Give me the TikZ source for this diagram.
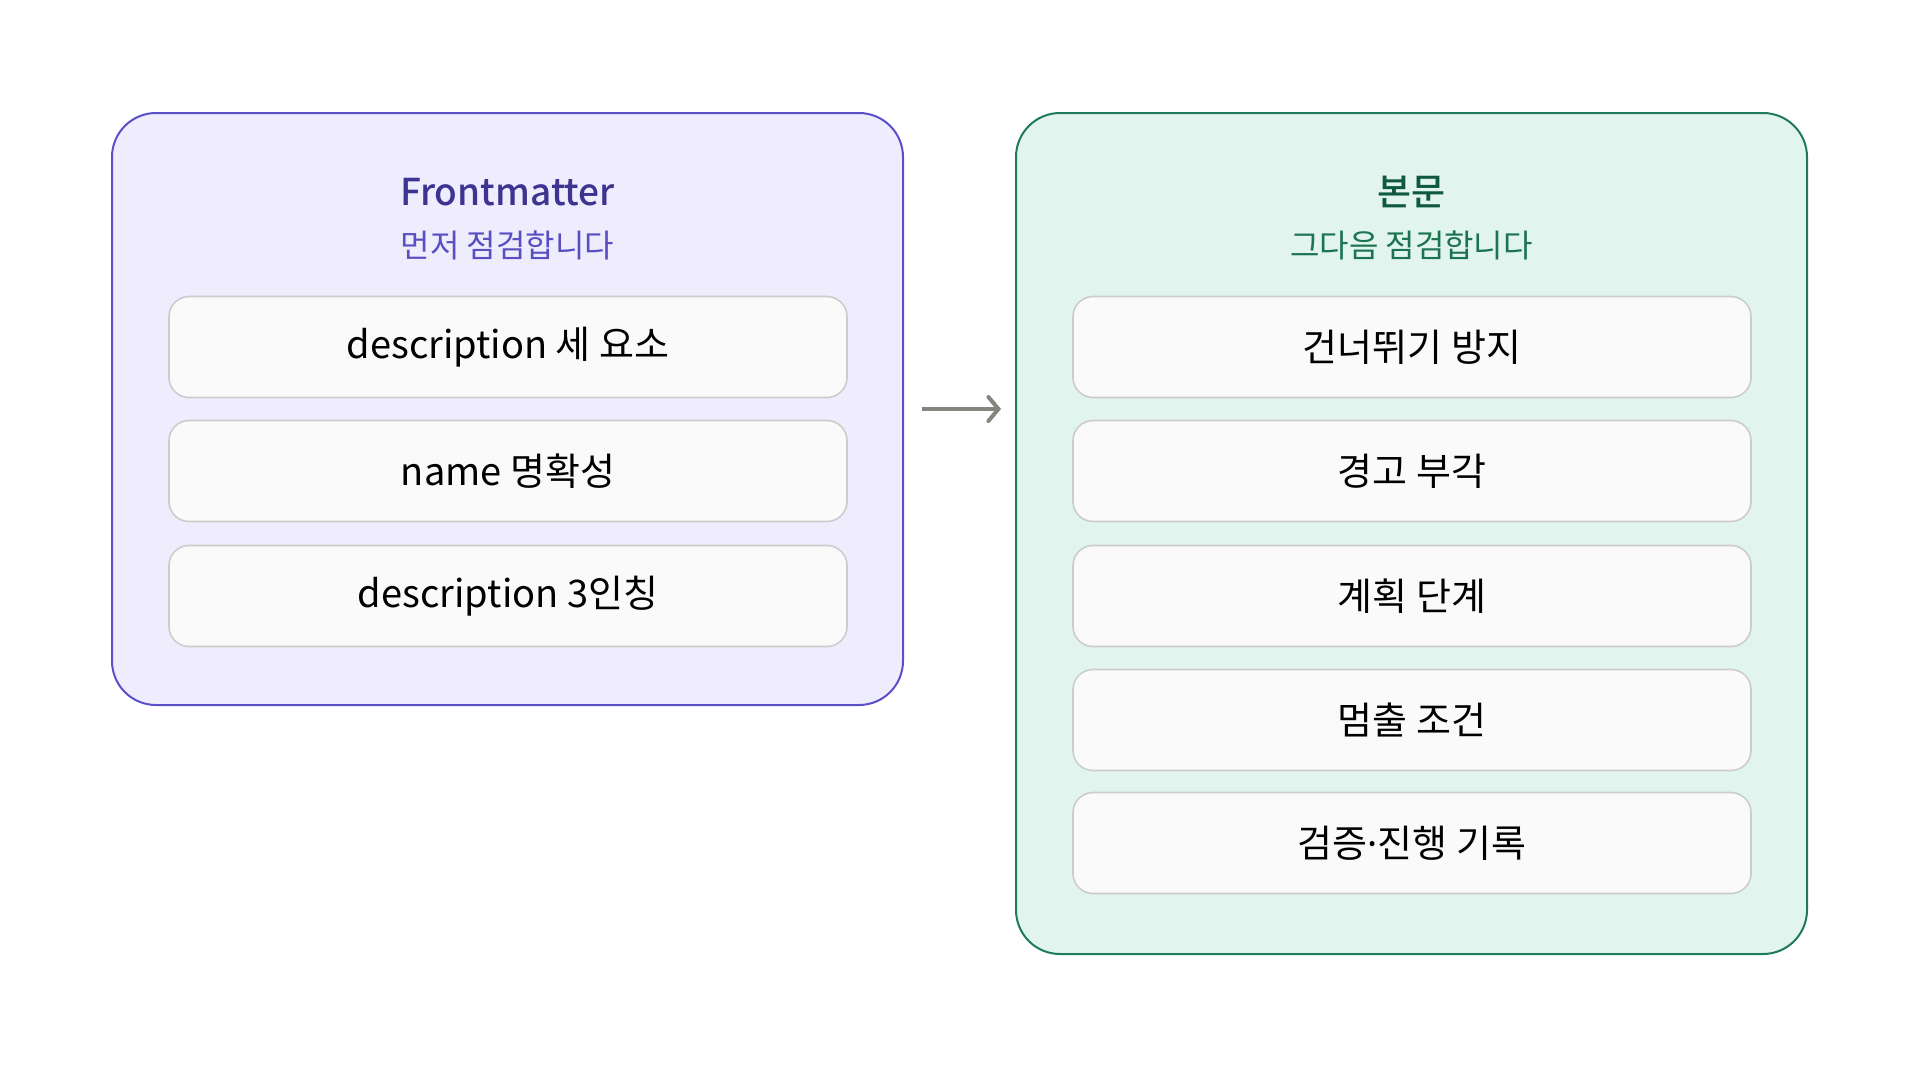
\documentclass[tikz,border=0pt]{standalone}
\usepackage{fontspec}
\setmainfont{Noto Sans CJK KR}
\newfontfamily\mediumfont{Noto Sans CJK KR Medium}
\newfontfamily\dotfont{Noto Sans}
\usetikzlibrary{arrows.meta}
\definecolor{fmfill}{HTML}{EEECFD}
\definecolor{fmline}{HTML}{5B50C8}
\definecolor{fmtitle}{HTML}{3D3390}
\definecolor{fmsub}{HTML}{5A4FC2}
\definecolor{bmfill}{HTML}{E1F5EE}
\definecolor{bmline}{HTML}{1F7A5A}
\definecolor{bmtitle}{HTML}{0F5A3E}
\definecolor{bmsub}{HTML}{1C7352}
\definecolor{itemfill}{HTML}{FAFAFA}
\definecolor{itemline}{HTML}{CCCCCC}
\definecolor{arrowgray}{HTML}{85857D}
\tikzset{
  panel/.style={draw, line width=1pt, rounded corners=22pt,
    minimum width=395.5pt, inner sep=0pt},
  item/.style={draw=itemline, fill=itemfill, line width=0.8pt, rounded corners=10pt,
    minimum width=339pt, minimum height=50.5pt, inner sep=0pt,
    font=\fontsize{19}{22}\selectfont},
  title/.style={font=\fontsize{18.5}{22}\selectfont\mediumfont},
  subtitle/.style={font=\fontsize{16}{19}\selectfont},
}
\begin{document}
\begin{tikzpicture}[x=0.5pt, y=-0.5pt]
        \useasboundingbox (0,0) rectangle (1920,1067);
        % Frontmatter
        \node[panel, draw=fmline, fill=fmfill, minimum height=296pt] (fm) at (507.5,409) {};
        \node[title, text=fmtitle] (fmt) at (507.5,192) {Frontmatter};
        \node[subtitle, text=fmsub] (fms) at (507.5,245) {먼저 점검합니다};
        \node[item] (f1) at (508,347) {description 세 요소};
        \node[item] (f2) at (508,471) {name 명확성};
        \node[item] (f3) at (508,596) {description 3인칭};
        % body
        \node[panel, draw=bmline, fill=bmfill, minimum height=420.5pt] (bm) at (1411.5,533.5) {};
        \node[title, text=bmtitle] (bmt) at (1411.5,192) {본문};
        \node[subtitle, text=bmsub] (bms) at (1411.5,245) {그다음 점검합니다};
        \node[item] (b1) at (1412,347) {건너뛰기 방지};
        \node[item] (b2) at (1412,471) {경고 부각};
        \node[item] (b3) at (1412,596) {계획 단계};
        \node[item] (b4) at (1412,720) {멈출 조건};
        \node[item] (b5) at (1412,843) {검증{\dotfont ·}진행 기록};
        % arrow
        \draw[arrowgray, line width=2pt, shorten <=9pt, shorten >=7pt,
          -{Straight Barb[length=5pt, width=12pt, line cap=round]}]
          (fm.east) -- (fm.east -| bm.west);
    \end{tikzpicture}
\end{document}
